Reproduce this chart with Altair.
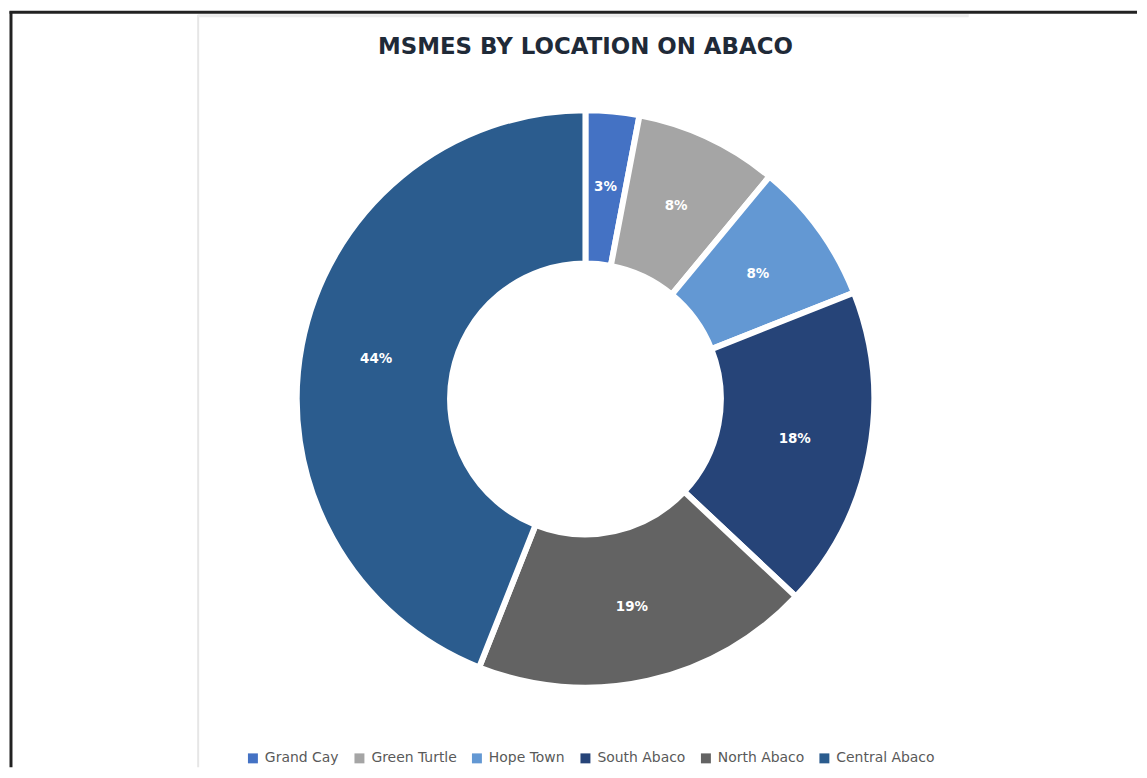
import altair as alt
import pandas as pd

# ---- data ----
title_text = "MSMES BY LOCATION ON ABACO"
locations = ["Grand Cay", "Green Turtle", "Hope Town", "South Abaco", "North Abaco", "Central Abaco"]
shares = [3, 8, 8, 18, 19, 44]
labels = ["3%", "8%", "8%", "18%", "19%", "44%"]
colors = ["#4472C4", "#A5A5A5", "#6398D3", "#264478", "#636363", "#2B5C8E"]

df = pd.DataFrame({
    "location": locations,
    "share": shares,
    "label": labels,
    "order": list(range(len(locations))),
})

# ---- layout (plot area = whole page minus 8px margins) ----
W, H = 1131, 761
CX, CY = 577, 391         # donut centre
R_OUT, R_IN = 290, 136

base = alt.Chart(df).encode(
    theta=alt.Theta("share:Q", stack=True),
    order=alt.Order("order:Q", sort="ascending"),
    x=alt.value(CX),
    y=alt.value(CY),
)

arcs = base.mark_arc(
    innerRadius=R_IN, outerRadius=R_OUT, stroke="white", strokeWidth=6
).encode(
    color=alt.Color(
        "location:N",
        scale=alt.Scale(domain=locations, range=colors),
        legend=alt.Legend(
            title=None,
            orient="none",
            direction="horizontal",
            legendX=236,
            legendY=745,
            symbolType="square",
            symbolSize=100,
            symbolStrokeWidth=0,
            labelFont="DejaVu Sans",
            labelFontSize=14,
            labelColor="#595959",
            labelOffset=5,
            columnPadding=13,
        ),
    )
)

text = base.mark_text(
    radius=214, font="DejaVu Sans", fontWeight="bold", fontSize=13.5, color="white"
).encode(text="label:N")

one = alt.Data(values=[{"title": title_text}])
title = alt.Chart(one).mark_text(
    font="DejaVu Sans", fontSize=23, fontWeight="bold", color="#1F2A38",
    align="center", baseline="middle",
).encode(text="title:N", x=alt.value(577), y=alt.value(38))

frame_left = alt.Chart(one).mark_rule(color="#222222", strokeWidth=3).encode(
    x=alt.value(0), y=alt.value(1.5), y2=alt.value(H)
)
frame_top = alt.Chart(one).mark_rule(color="#222222", strokeWidth=3).encode(
    x=alt.value(-1.5), x2=alt.value(W), y=alt.value(2.5)
)
grey_left = alt.Chart(one).mark_rule(color="#e6e6e6", strokeWidth=2).encode(
    x=alt.value(188), y=alt.value(5), y2=alt.value(H)
)
grey_top = alt.Chart(one).mark_rule(color="#ececec", strokeWidth=3).encode(
    x=alt.value(188), x2=alt.value(962), y=alt.value(6)
)

chart = alt.layer(
    frame_left, frame_top, grey_left, grey_top, arcs, text, title
).properties(
    width=W,
    height=H,
    padding=0,
).configure_view(stroke=None)

chart.save("out.html", embed_options={"renderer": "svg", "actions": False})
